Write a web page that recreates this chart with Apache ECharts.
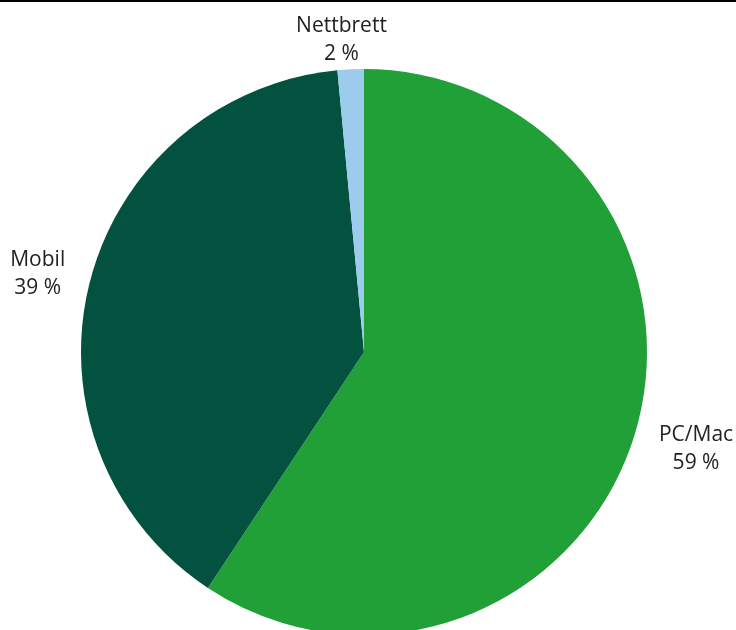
<!DOCTYPE html>
<html>
<head>
<meta charset="utf-8">
<style>
  html, body { margin: 0; padding: 0; background: #fff; }
  #chart { width: 736px; height: 630px; }
</style>
<script src="https://cdn.jsdelivr.net/npm/echarts@6/dist/echarts.min.js"></script>
</head>
<body>
<div id="chart"></div>
<script>
// Device share (per cent)
const categories = ['PC/Mac', 'Mobil', 'Nettbrett'];
const shares = [59.3, 39.2, 1.5];
const colors = ['#21a038', '#02523f', '#9ccbee'];

const CENTER = [364, 352];
const RADIUS = 283;
const LABEL_GAP = 25;

// mid angle of every slice, clockwise from 12 o'clock (radians)
const total = shares.reduce((a, b) => a + b, 0);
const midAngles = [];
let acc = 0;
shares.forEach(v => {
  midAngles.push(((acc + v / 2) / total) * 2 * Math.PI);
  acc += v;
});

// small per-label nudges [dx, dy]
const labelNudge = [[0, 8.5], [0, -3.5], [-8, -4]];

const chart = echarts.init(document.getElementById('chart'));

chart.setOption({
  animation: false,
  graphic: [{
    type: 'rect',
    left: 0, top: 0,
    shape: { width: 736, height: 2 },
    style: { fill: '#000' }
  }],
  series: [{
    type: 'pie',
    center: CENTER,
    radius: RADIUS,
    startAngle: 90,
    clockwise: true,
    avoidLabelOverlap: false,
    itemStyle: { borderWidth: 0 },
    label: {
      show: true,
      position: 'outside',
      fontFamily: '"Open Sans", "Noto Sans", sans-serif',
      fontSize: 21,
      lineHeight: 28,
      color: '#222',
      formatter: p => p.name + '\n' + Math.round(p.value) + ' %'
    },
    labelLine: { show: false },
    // label block sits just outside the rim, lines centred inside the block
    labelLayout: function (params) {
      const i = params.dataIndex;
      const a = midAngles[i];
      const sx = Math.sin(a), sy = -Math.cos(a);
      const ax = CENTER[0] + (RADIUS + LABEL_GAP) * sx;
      const ay = CENTER[1] + (RADIUS + LABEL_GAP) * sy;
      const w = params.labelRect.width;
      let x;
      if (Math.abs(sx) < 0.2) x = ax;
      else x = sx > 0 ? ax + w / 2 : ax - w / 2;
      return {
        x: x + labelNudge[i][0],
        y: ay + labelNudge[i][1],
        align: 'center',
        verticalAlign: 'middle'
      };
    },
    emphasis: { disabled: true },
    data: categories.map((name, i) => ({
      name: name,
      value: shares[i],
      itemStyle: { color: colors[i] }
    }))
  }]
});
</script>
</body>
</html>
